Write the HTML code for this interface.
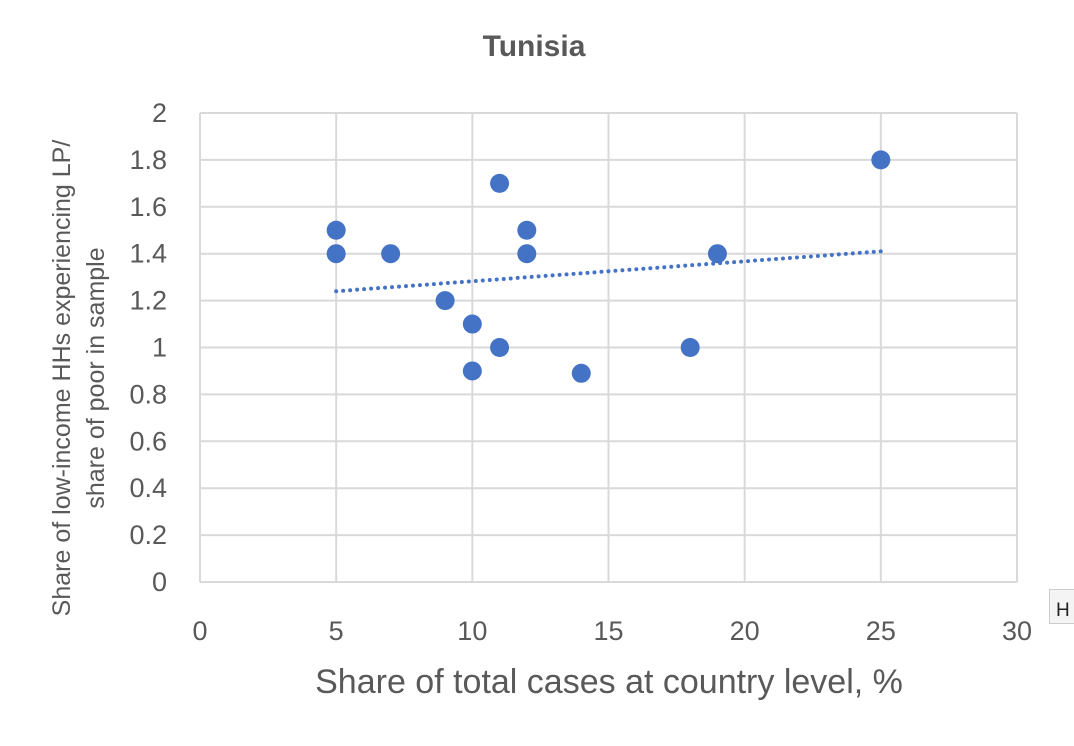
<!DOCTYPE html>
<html><head><meta charset="utf-8"><style>
body{margin:0;background:#fff;width:1074px;height:746px;overflow:hidden;font-family:"Liberation Sans",sans-serif;}
svg{display:block}
</style></head><body>
<svg id="chart" width="1074" height="746">
<text x="534" y="56" text-anchor="middle" font-size="30" font-weight="bold" fill="#595959">Tunisia</text>
<g id="grid"></g><g id="ticks"></g><g id="trend"></g><g id="points"></g>
<text x="609" y="693" text-anchor="middle" font-size="34" fill="#595959">Share of total cases at country level, %</text>
<text transform="translate(70,378) rotate(-90)" text-anchor="middle" font-size="25" fill="#595959"><tspan x="0" dy="0">Share of low-income HHs experiencing LP/</tspan><tspan x="0" dy="34">share of poor in sample</tspan></text>
<g><rect x="1049.5" y="589.5" width="30" height="34" fill="#f4f4f4" stroke="#ccc"/><text x="1056" y="616" font-size="19" fill="#222">H</text></g>
</svg>
<script>
const xTicks=[0,5,10,15,20,25,30];
const yTicks=[0,0.2,0.4,0.6,0.8,1,1.2,1.4,1.6,1.8,2];
const xVals=[5,5,7,9,10,10,11,11,12,12,14,18,19,25];
const yVals=[1.5,1.4,1.4,1.2,1.1,0.9,1.0,1.7,1.5,1.4,0.89,1.0,1.4,1.8];
const trendX=[5,25];
const trendY=[1.24,1.41];
const NS="http://www.w3.org/2000/svg";
const X=v=>200+v*(1017-200)/30;
const Y=v=>582-v*(582-113)/2;
function mk(t,a,p){const e=document.createElementNS(NS,t);for(const k in a)e.setAttribute(k,a[k]);p.appendChild(e);return e;}
const g=document.getElementById('grid'),tk=document.getElementById('ticks');
xTicks.forEach(v=>{const l=mk('line',{x1:X(v),x2:X(v),y1:113,y2:582,stroke:'#d9d9d9','stroke-width':2},g);


const t=mk('text',{x:X(v),y:640,'text-anchor':'middle','font-size':27,fill:'#595959'},tk);t.textContent=v;

});
yTicks.forEach(v=>{const l=mk('line',{x1:200,x2:1017,y1:Y(v),y2:Y(v),stroke:'#d9d9d9','stroke-width':2},g);


const t=mk('text',{x:167,y:Y(v)+9,'text-anchor':'end','font-size':27,fill:'#595959'},tk);t.textContent=String(Math.round(v*10)/10);

});
const tr=mk('line',{x1:X(trendX[0]),y1:Y(trendY[0]),x2:X(trendX[1]),y2:Y(trendY[1]),stroke:'#4472c4','stroke-width':4,'stroke-dasharray':'0 7','stroke-linecap':'round'},document.getElementById('trend'));


xVals.forEach((x,i)=>{const c=mk('circle',{cx:X(x),cy:Y(yVals[i]),r:9.5,fill:'#4472c4'},document.getElementById('points'));

});
</script>
</body></html>
